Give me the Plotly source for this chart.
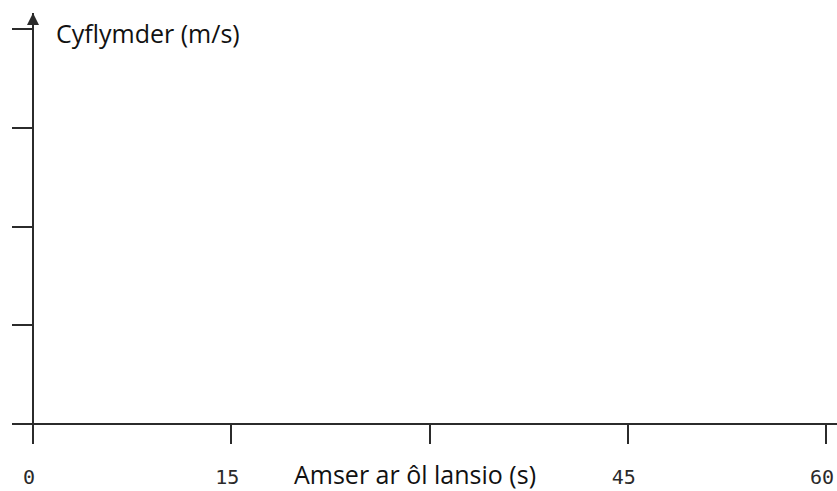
import plotly.graph_objects as go

# Axis values
x_tick_values = [0, 15, 30, 45, 60]
x_tick_labels = ["0", "15", "", "45", "60"]
y_tick_values = [0, 1, 2, 3, 4]
x_title = "Amser ar ôl lansio (s)"
y_title = "Cyflymder (m/s)"

W, H = 837, 491
line_col = "#2b2b2b"

fig = go.Figure()
# invisible trace to establish axes
fig.add_trace(go.Scatter(x=[0, 60], y=[0, 4], mode="markers",
                         marker=dict(opacity=0), hoverinfo="skip", showlegend=False))

fig.update_layout(
    width=W, height=H,
    margin=dict(l=0, r=0, t=0, b=0),
    paper_bgcolor="white", plot_bgcolor="white",
    showlegend=False,
    xaxis=dict(
        domain=[12 / W, 1],
        range=[-1.589, 60.83],
        showgrid=False, showline=False,
        zeroline=True, zerolinecolor=line_col, zerolinewidth=2,
        tickmode="array", tickvals=x_tick_values, ticktext=x_tick_labels,
        ticks="inside", ticklen=20, tickwidth=2, tickcolor=line_col,
        ticklabelstandoff=19, ticklabelshift=-4,
        tickfont=dict(family="DejaVu Sans Mono", size=20, color="#2a2a2a"),
    ),
    yaxis=dict(
        domain=[47 / H, (H - 13) / H],
        range=[-0.2025, 4.162],
        showgrid=False, showline=False,
        zeroline=True, zerolinecolor=line_col, zerolinewidth=2,
        tickmode="array", tickvals=y_tick_values,
        ticks="inside", ticklen=21, tickwidth=2, tickcolor=line_col,
        showticklabels=False,
    ),
    annotations=[
        dict(text=y_title, xref="paper", yref="paper",
             x=54 / W, y=1 - 33 / H,
             xanchor="left", yanchor="middle", showarrow=False,
             font=dict(family="Open Sans", size=25, color="#111111")),
        dict(text=x_title, xref="paper", yref="paper",
             x=415 / W, y=1 - 474 / H,
             xanchor="center", yanchor="middle", showarrow=False,
             font=dict(family="Open Sans", size=25, color="#111111")),
        # arrowhead at the top of the vertical axis
        dict(text="", xref="x", yref="paper", x=0, y=1 - 13 / H,
             ax=0, ay=18, showarrow=True, arrowhead=2, arrowsize=1.2,
             arrowwidth=2, arrowcolor=line_col, standoff=0),
    ],
)

fig.write_html("out.html", config={"displayModeBar": False},
               post_script="document.body.style.margin='0';")
